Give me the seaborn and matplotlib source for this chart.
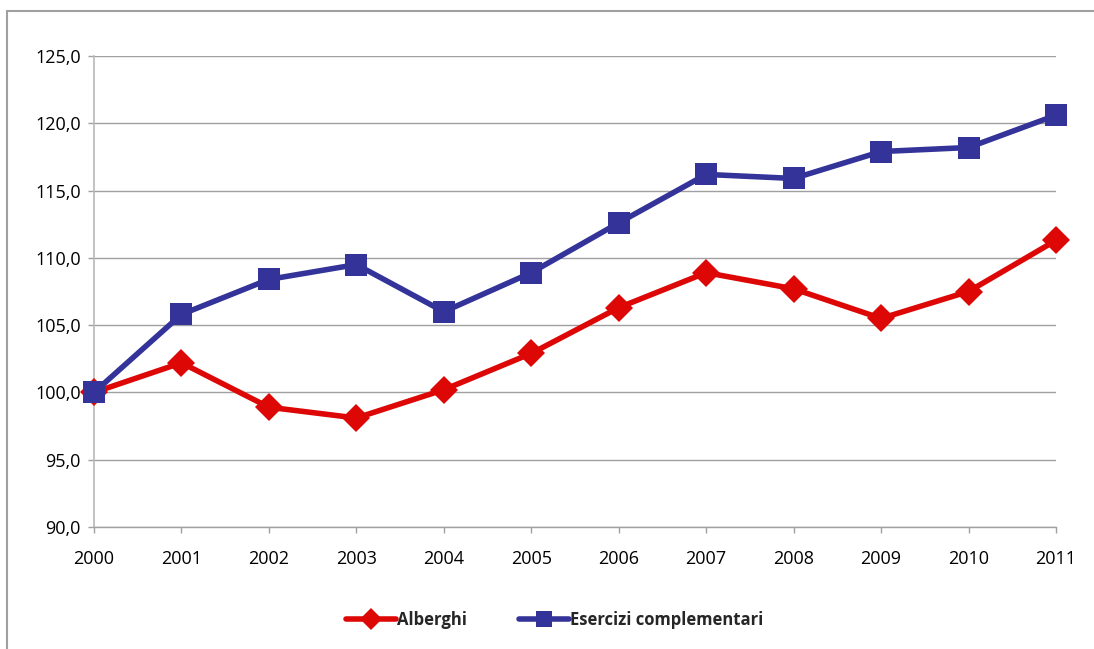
import matplotlib
matplotlib.use("Agg")
import matplotlib.pyplot as plt
import seaborn as sns
import pandas as pd
from matplotlib.patches import Rectangle
from matplotlib.ticker import FuncFormatter

years = [2000, 2001, 2002, 2003, 2004, 2005, 2006, 2007, 2008, 2009, 2010, 2011]
alberghi = [100.0, 102.2, 98.9, 98.1, 100.2, 102.9, 106.3, 108.9, 107.7, 105.5, 107.5, 111.3]
esercizi = [100.0, 105.8, 108.4, 109.5, 106.0, 108.9, 112.6, 116.2, 115.9, 117.9, 118.2, 120.6]
series_names = ["Alberghi", "Esercizi complementari"]

df = pd.DataFrame({
    "anno": years * 2,
    "indice": alberghi + esercizi,
    "serie": [series_names[0]] * len(years) + [series_names[1]] * len(years),
})

sns.set_theme(style="white")
plt.rcParams["font.family"] = ["Open Sans", "DejaVu Sans"]

fig = plt.figure(figsize=(10.94, 6.49), dpi=100)
ax = fig.add_axes([94 / 1094, 1 - 527 / 649, (1056 - 94) / 1094, (527 - 56) / 649])

palette = {series_names[0]: "#DD0806", series_names[1]: "#333399"}
markers = {series_names[0]: "D", series_names[1]: "s"}

sns.lineplot(data=df, x="anno", y="indice", hue="serie", style="serie",
             palette=palette, markers=markers, dashes=False, linewidth=4,
             markeredgewidth=0, ax=ax, legend=False, zorder=3)
for line, name in zip(ax.get_lines(), series_names):
    line.set_markersize(14 if markers[name] == "D" else 16)
    line.set_label(name)
    line.set_clip_on(False)

ax.set_xlim(2000, 2011)
ax.set_ylim(90, 125)
ax.set_xticks(years)
ax.set_yticks([90, 95, 100, 105, 110, 115, 120, 125])
ax.yaxis.set_major_formatter(FuncFormatter(lambda v, p: f"{v:.1f}".replace(".", ",")))
ax.set_xlabel("")
ax.set_ylabel("")

ax.grid(axis="y", color="#a0a0a0", linewidth=1)
ax.grid(axis="x", visible=False)
ax.set_axisbelow(True)
for s in ["top", "right"]:
    ax.spines[s].set_visible(False)
ax.spines["left"].set_color("#b8b8b8")
ax.spines["bottom"].set_color("#a0a0a0")
ax.spines["left"].set_linewidth(1.2)
ax.spines["bottom"].set_linewidth(1)
ax.tick_params(axis="both", which="major", length=4.5, width=1, color="#a0a0a0",
               labelsize=13, labelcolor="black", direction="out",
               bottom=True, left=True)
ax.tick_params(axis="x", pad=12)
ax.tick_params(axis="y", pad=5)

leg = fig.legend(handles=ax.get_lines()[:2], labels=series_names, loc="center",
                 bbox_to_anchor=(0.507, 1 - 620 / 649), ncol=2, frameon=False,
                 prop={"weight": "bold", "size": 12}, handlelength=3.0,
                 handletextpad=0.1, columnspacing=3.1)
for h in leg.legend_handles:
    h.set_markersize(11)

# outer chart frame
fig.patches.append(Rectangle((7 / 1094, -0.1), 1.2, 1 - 11 / 649 + 0.1,
                             transform=fig.transFigure, fill=False,
                             edgecolor="#a0a0a0", linewidth=1.5))

fig.savefig("out.png", dpi=100)
